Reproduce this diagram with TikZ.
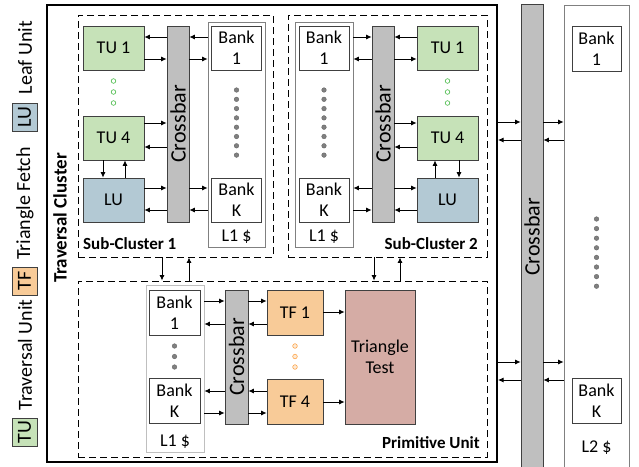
\documentclass[tikz,border=0pt]{standalone}
\usepackage{fontspec}
\setmainfont{Carlito}
\usetikzlibrary{arrows.meta}
\definecolor{tugreen}{HTML}{C6E2B8}
\definecolor{tforange}{HTML}{F8CB98}
\definecolor{lublue}{HTML}{B3C9D4}
\definecolor{ttred}{HTML}{D5ACA5}
\definecolor{xgray}{HTML}{BFBFBF}
\definecolor{edge}{HTML}{404040}
\def\xbartext{\fontsize{22}{24}\selectfont\rotatebox{90}{Crossbar}}

\begin{document}
\begin{tikzpicture}[x=1pt,y=-1pt,
  every node/.style={font=\fontsize{18}{21}\selectfont, inner sep=0pt},
  blk/.style={draw=edge, line width=0.8pt, minimum width=61pt, minimum height=44pt, align=center},
  tu/.style={blk, fill=tugreen},
  lu/.style={blk, fill=lublue},
  tf/.style={blk, fill=tforange, minimum width=56pt, minimum height=45pt},
  bank/.style={blk, fill=white, minimum width=50pt, minimum height=44pt},
  xbar/.style={draw=edge, line width=0.8pt, fill=xgray, minimum width=22pt},
  cache/.style={draw=gray, line width=0.8pt},
  cluster/.style={draw=black, line width=0.9pt, dash pattern=on 7pt off 4pt},
  title/.style={font=\fontsize{17}{20}\selectfont\bfseries},
  key/.style={rotate=90, minimum width=28pt, minimum height=25pt, font=\fontsize{20}{22}\selectfont},
  keytxt/.style={rotate=90, font=\fontsize{20}{22}\selectfont},
  arr/.style={draw=black, line width=0.8pt, -{Latex[length=5.5pt,width=5pt]}},
  gdot/.style={draw=gray!80!black, fill=gray},
  ]
\useasboundingbox (0,0) rectangle (639,466);

% legend
\node[tu, key] (keyTU) at (24.5,432) {TU};
\node[keytxt] (keyTUtxt) at (25,355) {Traversal Unit};
\node[tf, key] (keyTF) at (24.5,281) {TF};
\node[keytxt] (keyTFtxt) at (25,203.5) {Triangle Fetch};
\node[lu, key] (keyLU) at (24.5,117) {LU};
\node[keytxt] (keyLUtxt) at (25,57.5) {Leaf Unit};

% traversal cluster
\node[draw=black, line width=2pt, minimum width=450pt, minimum height=457pt] (travC) at (272,233.5) {};
\node[title, rotate=90, font=\fontsize{19}{21}\selectfont\bfseries] (travtxt) at (60,218) {Traversal Cluster};
\node[cluster, minimum width=195pt, minimum height=242pt] (scA) at (175.5,136) {};
\node[cluster, minimum width=199pt, minimum height=242pt] (scB) at (387.5,136) {};
\node[cluster, minimum width=409pt, minimum height=176pt] (prim) at (282.5,369) {};
\node[title, anchor=west] (scAtxt) at (83,244) {Sub-Cluster 1};
\node[title, anchor=east] (scBtxt) at (478,244) {Sub-Cluster 2};
\node[title, anchor=east] (primtxt) at (480,443) {Primitive Unit};

% sub-cluster 1
\node[tu] (tuA1) at (113.5,48) {TU 1};
\node[tu] (tuA4) at (113.5,138) {TU 4};
\node[lu] (luA) at (113.5,200) {LU};
\node[xbar, minimum height=196pt] (xbarA) at (178,124) {\xbartext};
\node[cache, minimum width=57pt, minimum height=225pt] (lOneA) at (236.5,134.5) {};
\node[bank] (bankA1) at (236.5,48) {Bank\\1};
\node[bank] (bankAK) at (236.5,200) {Bank\\K};
\node (lblA) at (236.5,237) {L1 \$};
\foreach \i in {0,...,2} \draw[draw=green!45!gray, fill=white, line width=0.6pt] (113.5,{81+\i*11}) circle (2.3pt);
\foreach \i in {0,...,7} \draw[gdot] (236.5,{90+\i*9.3}) circle (2.3pt);
\draw[arr] (xbarA.west |- 0,37) -- (tuA1.east |- 0,37);
\draw[arr] (tuA1.east |- 0,59) -- (xbarA.west |- 0,59);
\draw[arr] (tuA4.east |- 0,123) -- (xbarA.west |- 0,123);
\draw[arr] (xbarA.west |- 0,147) -- (tuA4.east |- 0,147);
\draw[arr] (luA.east |- 0,188) -- (xbarA.west |- 0,188);
\draw[arr] (xbarA.west |- 0,210) -- (luA.east |- 0,210);
\draw[arr] (lOneA.west |- 0,37) -- (xbarA.east |- 0,37);
\draw[arr] (xbarA.east |- 0,59) -- (lOneA.west |- 0,59);
\draw[arr] (xbarA.east |- 0,188) -- (lOneA.west |- 0,188);
\draw[arr] (lOneA.west |- 0,210) -- (xbarA.east |- 0,210);
\draw[arr] (tuA4.south -| 103,0) -- (luA.north -| 103,0);
\draw[arr] (luA.north -| 125,0) -- (tuA4.south -| 125,0);

% sub-cluster 2
\node[cache, minimum width=58pt, minimum height=225pt] (lOneB) at (324,134.5) {};
\node[bank] (bankB1) at (324,48) {Bank\\1};
\node[bank] (bankBK) at (324,200) {Bank\\K};
\node (lblB) at (324,237) {L1 \$};
\node[xbar, minimum height=196pt] (xbarB) at (383,124) {\xbartext};
\node[tu] (tuB1) at (447.5,48) {TU 1};
\node[tu] (tuB4) at (447.5,138) {TU 4};
\node[lu] (luB) at (447.5,200) {LU};
\foreach \i in {0,...,2} \draw[draw=green!45!gray, fill=white, line width=0.6pt] (447.5,{81+\i*11}) circle (2.3pt);
\foreach \i in {0,...,7} \draw[gdot] (324,{90+\i*9.3}) circle (2.3pt);
\draw[arr] (lOneB.east |- 0,37) -- (xbarB.west |- 0,37);
\draw[arr] (xbarB.west |- 0,59) -- (lOneB.east |- 0,59);
\draw[arr] (xbarB.west |- 0,188) -- (lOneB.east |- 0,188);
\draw[arr] (lOneB.east |- 0,210) -- (xbarB.west |- 0,210);
\draw[arr] (tuB1.west |- 0,37) -- (xbarB.east |- 0,37);
\draw[arr] (xbarB.east |- 0,59) -- (tuB1.west |- 0,59);
\draw[arr] (xbarB.east |- 0,123) -- (tuB4.west |- 0,123);
\draw[arr] (tuB4.west |- 0,147) -- (xbarB.east |- 0,147);
\draw[arr] (xbarB.east |- 0,188) -- (luB.west |- 0,188);
\draw[arr] (luB.west |- 0,210) -- (xbarB.east |- 0,210);
\draw[arr] (luB.north -| 435,0) -- (tuB4.south -| 435,0);
\draw[arr] (tuB4.south -| 459,0) -- (luB.north -| 459,0);

% primitive unit
\node[draw=xgray, line width=0.8pt, minimum width=58pt, minimum height=167pt] (lOneC) at (175,368.5) {};
\node[bank, minimum width=51pt, minimum height=45pt] (bankC1) at (174.5,312.5) {Bank\\1};
\node[bank, minimum width=51pt, minimum height=45pt] (bankCK) at (174.5,401) {Bank\\K};
\node (lblC) at (175,442) {L1 \$};
\node[xbar, minimum width=23pt, minimum height=134pt] (xbarC) at (236.5,357) {\xbartext};
\node[tf] (tfC1) at (295,312.5) {TF 1};
\node[tf] (tfC4) at (295,401.5) {TF 4};
\node[blk, fill=ttred, minimum width=70pt, minimum height=134pt] (tt) at (380,357) {Triangle\\Test};
\foreach \i in {0,...,2} \draw[gdot] (174.5,{346+\i*10.5}) circle (2.3pt);
\foreach \i in {0,...,2} \draw[draw=orange!70!white, fill=tforange!40!white, line width=0.6pt] (295,{346+\i*10.5}) circle (2.3pt);
\draw[arr] (lOneC.east |- 0,301) -- (xbarC.west |- 0,301);
\draw[arr] (xbarC.west |- 0,324) -- (lOneC.east |- 0,324);
\draw[arr] (xbarC.west |- 0,391) -- (lOneC.east |- 0,391);
\draw[arr] (lOneC.east |- 0,413) -- (xbarC.west |- 0,413);
\draw[arr] (xbarC.east |- 0,301) -- (tfC1.west |- 0,301);
\draw[arr] (tfC1.west |- 0,324) -- (xbarC.east |- 0,324);
\draw[arr] (tfC4.west |- 0,391) -- (xbarC.east |- 0,391);
\draw[arr] (xbarC.east |- 0,413) -- (tfC4.west |- 0,413);
\draw[arr] (tfC1.east |- 0,312) -- (tt.west |- 0,312);
\draw[arr] (tfC4.east |- 0,402) -- (tt.west |- 0,402);

% between clusters
\draw[arr] (scA.south -| 162,0) -- (prim.north -| 162,0);
\draw[arr] (prim.north -| 189,0) -- (scA.south -| 189,0);
\draw[arr] (scB.south -| 374,0) -- (prim.north -| 374,0);
\draw[arr] (prim.north -| 400,0) -- (scB.south -| 400,0);

% L2
\node[xbar, minimum height=466pt] (xbarL2) at (532,237) {\xbartext};
\node[cache, minimum width=65pt, minimum height=464pt] (lTwo) at (596.5,237) {};
\node[bank, minimum width=49pt, minimum height=45pt] (bankL1) at (596.5,48.5) {Bank\\1};
\node[bank, minimum width=49pt, minimum height=45pt] (bankLK) at (596.5,400.5) {Bank\\K};
\node (lblL2) at (596.5,448) {L2 \$};
\foreach \i in {0,...,7} \draw[gdot] (596.5,{219+\i*9.6}) circle (2.3pt);
\draw[arr] (travC.east |- 0,122) -- (xbarL2.west |- 0,122);
\draw[arr] (xbarL2.west |- 0,140) -- (travC.east |- 0,140);
\draw[arr] (xbarL2.east |- 0,122) -- (lTwo.west |- 0,122);
\draw[arr] (lTwo.west |- 0,140) -- (xbarL2.east |- 0,140);
\draw[arr] (travC.east |- 0,362) -- (xbarL2.west |- 0,362);
\draw[arr] (xbarL2.west |- 0,380) -- (travC.east |- 0,380);
\draw[arr] (xbarL2.east |- 0,362) -- (lTwo.west |- 0,362);
\draw[arr] (lTwo.west |- 0,380) -- (xbarL2.east |- 0,380);
\end{tikzpicture}
\end{document}
